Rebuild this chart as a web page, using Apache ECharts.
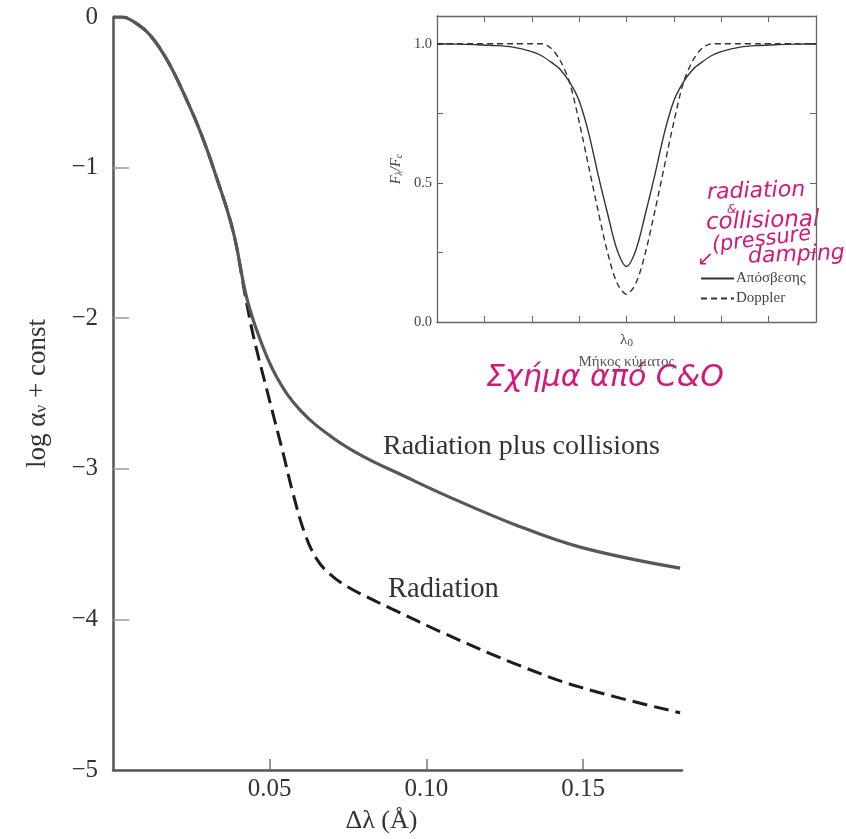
<!DOCTYPE html>
<html><head><meta charset="utf-8">
<script src="https://cdn.jsdelivr.net/npm/echarts@6/dist/echarts.min.js"></script>
<style>html,body{margin:0;padding:0;background:#fff}#c{width:846px;height:839px}</style>
</head><body><div id="c"></div>
<script>
// Main chart: log alpha_nu + const vs delta lambda (Å)
const radColX = [0, 0.0028, 0.0065, 0.0118, 0.0171, 0.0224, 0.0278, 0.0331, 0.0384, 0.0426, 0.0469, 0.0522, 0.0597, 0.0702, 0.0807, 0.0915, 0.1065, 0.1276, 0.1490, 0.1809];
const radColY = [0, 0, -0.03, -0.12, -0.28, -0.50, -0.76, -1.07, -1.43, -1.86, -2.14, -2.39, -2.61, -2.795, -2.928, -3.035, -3.18, -3.366, -3.52, -3.66];
const radX = [0, 0.0028, 0.0065, 0.0118, 0.0171, 0.0224, 0.0278, 0.0331, 0.0384, 0.0421, 0.0448, 0.0490, 0.0543, 0.0575, 0.0612, 0.0650, 0.0692, 0.0745, 0.0809, 0.0884, 0.1064, 0.1277, 0.1490, 0.1809];
const radY = [0, 0, -0.03, -0.12, -0.28, -0.50, -0.76, -1.07, -1.43, -1.84, -2.12, -2.47, -2.90, -3.17, -3.43, -3.60, -3.70, -3.78, -3.85, -3.925, -4.10, -4.29, -4.45, -4.62];
const mainXTicks = [0.05, 0.10, 0.15];
const mainYTicks = [-5, -4, -3, -2, -1, 0];

// Inset: F_lambda / F_c vs wavelength
const insetX = [-4, -3.6, -3.2, -2.8, -2.4, -2.0, -1.8, -1.6, -1.4, -1.2, -1.0, -0.8, -0.6, -0.4, -0.2, 0, 0.2, 0.4, 0.6, 0.8, 1.0, 1.2, 1.4, 1.6, 1.8, 2.0, 2.4, 2.8, 3.2, 3.6, 4];
const damping = [1.0, 0.999, 0.997, 0.994, 0.988, 0.972, 0.958, 0.935, 0.908, 0.862, 0.795, 0.68, 0.53, 0.39, 0.26, 0.20, 0.26, 0.39, 0.53, 0.68, 0.795, 0.862, 0.908, 0.935, 0.958, 0.972, 0.988, 0.994, 0.997, 0.999, 1.0];
const doppler = [1.0, 1.0, 1.0, 1.0, 1.0, 1.0, 1.0, 0.985, 0.94, 0.86, 0.72, 0.56, 0.40, 0.25, 0.14, 0.10, 0.14, 0.25, 0.40, 0.56, 0.72, 0.86, 0.94, 0.985, 1.0, 1.0, 1.0, 1.0, 1.0, 1.0, 1.0];
const insetYLabels = [0, 0.5, 1.0];
const insetYTicks = [0, 0.25, 0.5, 0.75, 1.0];

const serif = '"Liberation Serif", "DejaVu Serif", serif';
const pink = '#d3187a';
const hand = '"DejaVu Sans", sans-serif';

const chart = echarts.init(document.getElementById('c'), null, {renderer: 'canvas'});
const zip = (xs, ys) => xs.map((x, i) => [x, ys[i]]);

const option = {
  animation: false,
  backgroundColor: '#ffffff',
  grid: [
    {left: 113, top: 17, width: 569, height: 753},
    {left: 437, top: 16, width: 379, height: 306}
  ],
  legend: {
    data: ['Απόσβεσης', 'Doppler'],
    orient: 'vertical',
    left: 695, top: 266,
    itemWidth: 33, itemHeight: 12, itemGap: 5,
    itemStyle: {opacity: 0},
    textStyle: {fontFamily: serif, fontSize: 15, color: '#444', padding: [0, 0, 0, -3]}
  },
  xAxis: [
    {
      gridIndex: 0, type: 'value', min: 0, max: 0.1815,
      axisLine: {onZero: false, lineStyle: {color: '#555', width: 2.5}},
      axisTick: {inside: true, length: 11, customValues: mainXTicks, lineStyle: {color: '#777', width: 1.5}},
      axisLabel: {customValues: mainXTicks, formatter: v => v.toFixed(2), fontFamily: serif, fontSize: 25, color: '#333', margin: 7},
      splitLine: {show: false},
      name: 'Δλ (Å)', nameLocation: 'middle', nameGap: 38,
      nameTextStyle: {fontFamily: serif, fontSize: 26, color: '#333', padding: [0, 32, 0, 0]}
    },
    {
      gridIndex: 1, type: 'value', min: -4, max: 4, interval: 1, position: 'bottom',
      axisLine: {onZero: false, lineStyle: {color: '#666', width: 1.3}},
      axisTick: {inside: true, length: 6, lineStyle: {color: '#666', width: 1}},
      axisLabel: {
        formatter: v => v === 0 ? '{l|λ}{s|0}' : '', margin: 10,
        rich: {l: {fontFamily: serif, fontSize: 15, color: '#444'}, s: {fontFamily: serif, fontSize: 11, color: '#444', padding: [6, 0, 0, 0]}}
      },
      splitLine: {show: false},
      name: 'Μήκος κύματος', nameLocation: 'middle', nameGap: 33,
      nameTextStyle: {fontFamily: serif, fontSize: 15, color: '#555'}
    },
    {
      gridIndex: 1, type: 'value', min: -4, max: 4, interval: 1, position: 'top',
      axisLine: {onZero: false, lineStyle: {color: '#666', width: 1.3}},
      axisTick: {inside: true, length: 6, lineStyle: {color: '#666', width: 1}},
      axisLabel: {show: false}, splitLine: {show: false}
    }
  ],
  yAxis: [
    {
      gridIndex: 0, type: 'value', min: -5, max: 0, interval: 1,
      axisLine: {show: true, onZero: false, lineStyle: {color: '#555', width: 2.5}},
      axisTick: {show: true, inside: true, length: 16, customValues: [-4, -3, -2, -1], lineStyle: {color: '#999', width: 1.5}},
      axisLabel: {customValues: mainYTicks, formatter: v => v === 0 ? '0' : '−' + Math.abs(v), fontFamily: serif, fontSize: 25, color: '#333', margin: 15},
      splitLine: {show: false},
      name: '{a|log α}{s|ν}{a| + const}', nameLocation: 'middle', nameGap: 62,
      nameTextStyle: {
        rich: {
          a: {fontFamily: serif, fontSize: 27, color: '#333'},
          s: {fontFamily: serif, fontSize: 17, color: '#333', padding: [9, 0, 0, 0]}
        }
      }
    },
    {
      gridIndex: 1, type: 'value', min: 0, max: 1.1, position: 'left',
      axisLine: {show: true, onZero: false, lineStyle: {color: '#666', width: 1.3}},
      axisTick: {show: true, inside: true, length: 6, customValues: insetYTicks, lineStyle: {color: '#666', width: 1}},
      axisLabel: {customValues: insetYLabels, formatter: v => v.toFixed(1), fontFamily: serif, fontSize: 14.5, color: '#444', margin: 5},
      splitLine: {show: false},
      name: '{i|F}{s|λ}{i|/F}{s|c}', nameLocation: 'middle', nameGap: 33,
      nameTextStyle: {
        rich: {
          i: {fontFamily: serif, fontStyle: 'italic', fontSize: 14.5, color: '#444'},
          s: {fontFamily: serif, fontStyle: 'italic', fontSize: 10, color: '#444', padding: [5, 0, 0, 0]}
        }
      }
    },
    {
      gridIndex: 1, type: 'value', min: 0, max: 1.1, position: 'right',
      axisLine: {show: true, onZero: false, lineStyle: {color: '#666', width: 1.3}},
      axisTick: {show: true, inside: true, length: 6, customValues: insetYTicks, lineStyle: {color: '#666', width: 1}},
      axisLabel: {show: false}, splitLine: {show: false}
    }
  ],
  series: [
    {
      name: 'Radiation', type: 'line', xAxisIndex: 0, yAxisIndex: 0,
      data: zip(radX, radY), symbol: 'none', smooth: 0.4, z: 2,
      lineStyle: {color: '#1c1c1c', width: 3, type: [15, 7]}
    },
    {
      name: 'Radiation plus collisions', type: 'line', xAxisIndex: 0, yAxisIndex: 0,
      data: zip(radColX, radColY), symbol: 'none', smooth: 0.4, z: 3,
      lineStyle: {color: '#575757', width: 3.2}
    },
    {
      name: 'Απόσβεσης', type: 'line', xAxisIndex: 1, yAxisIndex: 1,
      data: zip(insetX, damping), symbol: 'none', smooth: 0.3,
      itemStyle: {color: '#333'},
      lineStyle: {color: '#333', width: 1.4}
    },
    {
      name: 'Doppler', type: 'line', xAxisIndex: 1, yAxisIndex: 1,
      data: zip(insetX, doppler), symbol: 'none', smooth: 0.3,
      itemStyle: {color: '#333'},
      lineStyle: {color: '#333', width: 1.4, type: [6, 4]}
    }
  ],
  graphic: [
    {type: 'text', x: 383, y: 447, style: {text: 'Radiation plus collisions', font: '28px ' + serif, fill: '#333', textVerticalAlign: 'middle'}},
    {type: 'text', x: 388, y: 590, style: {text: 'Radiation', font: '28.5px ' + serif, fill: '#333', textVerticalAlign: 'middle'}},
    {type: 'text', x: 707, y: 193, rotation: 0.03, style: {text: 'radiation', font: 'italic 22px ' + hand, fill: pink, textVerticalAlign: 'middle'}},
    {type: 'text', x: 727, y: 210, style: {text: '&', font: 'italic 12px ' + hand, fill: pink, textVerticalAlign: 'middle'}},
    {type: 'text', x: 706, y: 223, rotation: 0.03, style: {text: 'collisional', font: 'italic 23px ' + hand, fill: pink, textVerticalAlign: 'middle'}},
    {type: 'text', x: 697, y: 260, style: {text: '↙', font: '20px ' + hand, fill: pink, textVerticalAlign: 'middle'}},
    {type: 'text', x: 712, y: 246, rotation: 0.12, style: {text: '(pressure', font: 'italic 21px ' + hand, fill: pink, textVerticalAlign: 'middle'}},
    {type: 'text', x: 748, y: 257, rotation: 0.04, style: {text: 'damping', font: 'italic 22px ' + hand, fill: pink, textVerticalAlign: 'middle'}},
    {type: 'text', x: 486, y: 378, style: {text: 'Σχήμα από C&O', font: 'italic 30px ' + hand, fill: pink, textVerticalAlign: 'middle'}}
  ]
};
chart.setOption(option);
</script>
</body></html>
